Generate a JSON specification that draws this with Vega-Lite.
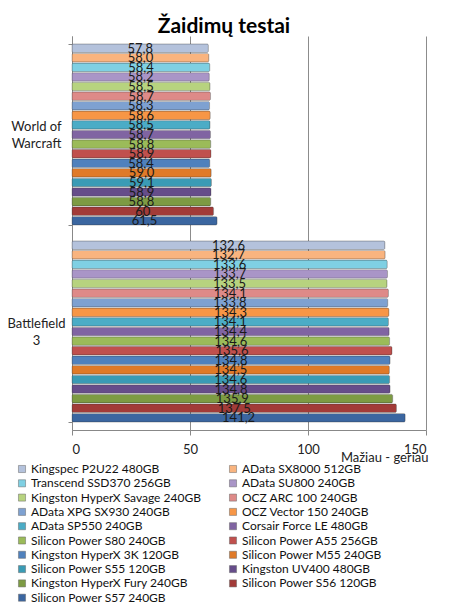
{
  "$schema": "https://vega.github.io/schema/vega-lite/v6.json",
  "autosize": {"type": "none"},
  "width": 354,
  "height": 394,
  "padding": {"left": 72, "top": 36, "right": 24, "bottom": 177},
  "background": "white",
  "config": {
    "font": "Lato",
    "view": {"stroke": null},
    "axis": {"labelFont": "Lato", "titleFont": "Lato"},
    "legend": {"labelFont": "Lato"}
  },
  "title": {
    "text": "Žaidimų testai",
    "fontSize": 21,
    "fontWeight": "bold",
    "font": "Lato",
    "color": "#000000",
    "anchor": "middle",
    "frame": "group",
    "dx": -25,
    "dy": 30,
    "baseline": "bottom",
    "offset": 2
  },
  "data": {
    "values": [
      {"game": "World of Warcraft", "series": "Kingspec P2U22 480GB", "value": 57.8, "label": "57,8"},
      {"game": "World of Warcraft", "series": "AData SX8000 512GB", "value": 58.0, "label": "58,0"},
      {"game": "World of Warcraft", "series": "Transcend SSD370 256GB", "value": 58.4, "label": "58,4"},
      {"game": "World of Warcraft", "series": "AData SU800 240GB", "value": 58.2, "label": "58,2"},
      {"game": "World of Warcraft", "series": "Kingston HyperX Savage 240GB", "value": 58.5, "label": "58,5"},
      {"game": "World of Warcraft", "series": "OCZ ARC 100 240GB", "value": 58.7, "label": "58,7"},
      {"game": "World of Warcraft", "series": "AData XPG SX930 240GB", "value": 58.3, "label": "58,3"},
      {"game": "World of Warcraft", "series": "OCZ Vector 150 240GB", "value": 58.6, "label": "58,6"},
      {"game": "World of Warcraft", "series": "AData SP550 240GB", "value": 58.5, "label": "58,5"},
      {"game": "World of Warcraft", "series": "Corsair Force LE 480GB", "value": 58.7, "label": "58,7"},
      {"game": "World of Warcraft", "series": "Silicon Power S80 240GB", "value": 58.8, "label": "58,8"},
      {"game": "World of Warcraft", "series": "Silicon Power A55 256GB", "value": 58.9, "label": "58,9"},
      {"game": "World of Warcraft", "series": "Kingston HyperX 3K 120GB", "value": 58.4, "label": "58,4"},
      {"game": "World of Warcraft", "series": "Silicon Power M55 240GB", "value": 59.0, "label": "59,0"},
      {"game": "World of Warcraft", "series": "Silicon Power S55 120GB", "value": 59.1, "label": "59,1"},
      {"game": "World of Warcraft", "series": "Kingston UV400 480GB", "value": 58.9, "label": "58,9"},
      {"game": "World of Warcraft", "series": "Kingston HyperX Fury 240GB", "value": 58.8, "label": "58,8"},
      {"game": "World of Warcraft", "series": "Silicon Power S56 120GB", "value": 60, "label": "60"},
      {"game": "World of Warcraft", "series": "Silicon Power S57 240GB", "value": 61.5, "label": "61,5"},
      {"game": "Battlefield 3", "series": "Kingspec P2U22 480GB", "value": 132.6, "label": "132,6"},
      {"game": "Battlefield 3", "series": "AData SX8000 512GB", "value": 132.7, "label": "132,7"},
      {"game": "Battlefield 3", "series": "Transcend SSD370 256GB", "value": 133.6, "label": "133,6"},
      {"game": "Battlefield 3", "series": "AData SU800 240GB", "value": 133.7, "label": "133,7"},
      {"game": "Battlefield 3", "series": "Kingston HyperX Savage 240GB", "value": 133.5, "label": "133,5"},
      {"game": "Battlefield 3", "series": "OCZ ARC 100 240GB", "value": 134.1, "label": "134,1"},
      {"game": "Battlefield 3", "series": "AData XPG SX930 240GB", "value": 133.8, "label": "133,8"},
      {"game": "Battlefield 3", "series": "OCZ Vector 150 240GB", "value": 134.3, "label": "134,3"},
      {"game": "Battlefield 3", "series": "AData SP550 240GB", "value": 134.1, "label": "134,1"},
      {"game": "Battlefield 3", "series": "Corsair Force LE 480GB", "value": 134.4, "label": "134,4"},
      {"game": "Battlefield 3", "series": "Silicon Power S80 240GB", "value": 134.6, "label": "134,6"},
      {"game": "Battlefield 3", "series": "Silicon Power A55 256GB", "value": 135.6, "label": "135,6"},
      {"game": "Battlefield 3", "series": "Kingston HyperX 3K 120GB", "value": 134.8, "label": "134,8"},
      {"game": "Battlefield 3", "series": "Silicon Power M55 240GB", "value": 134.5, "label": "134,5"},
      {"game": "Battlefield 3", "series": "Silicon Power S55 120GB", "value": 134.6, "label": "134,6"},
      {"game": "Battlefield 3", "series": "Kingston UV400 480GB", "value": 134.8, "label": "134,8"},
      {"game": "Battlefield 3", "series": "Kingston HyperX Fury 240GB", "value": 135.9, "label": "135,9"},
      {"game": "Battlefield 3", "series": "Silicon Power S56 120GB", "value": 137.5, "label": "137,5"},
      {"game": "Battlefield 3", "series": "Silicon Power S57 240GB", "value": 141.2, "label": "141,2"}
    ]
  },
  "encoding": {
    "y": {
      "field": "game",
      "type": "nominal",
      "sort": ["World of Warcraft", "Battlefield 3"],
      "scale": {"paddingInner": 0.08, "paddingOuter": 0.04},
      "axis": {
        "title": null,
        "tickBand": "extent",
        "tickSize": 4,
        "tickColor": "#888888",
        "domainColor": "#888888",
        "labelAlign": "center",
        "labelBaseline": "middle",
        "labelPadding": 32,
        "labelOffset": -8,
        "labelFontSize": 13,
        "labelColor": "#222222",
        "labelLineHeight": 17,
        "labelExpr": "datum.value == 'World of Warcraft' ? ['World of', 'Warcraft'] : (datum.value == 'Battlefield 3' ? ['Battlefield', '3'] : '')"
      }
    },
    "yOffset": {
      "field": "series",
      "type": "nominal",
      "sort": ["Kingspec P2U22 480GB", "AData SX8000 512GB", "Transcend SSD370 256GB", "AData SU800 240GB", "Kingston HyperX Savage 240GB", "OCZ ARC 100 240GB", "AData XPG SX930 240GB", "OCZ Vector 150 240GB", "AData SP550 240GB", "Corsair Force LE 480GB", "Silicon Power S80 240GB", "Silicon Power A55 256GB", "Kingston HyperX 3K 120GB", "Silicon Power M55 240GB", "Silicon Power S55 120GB", "Kingston UV400 480GB", "Kingston HyperX Fury 240GB", "Silicon Power S56 120GB", "Silicon Power S57 240GB"],
      "scale": {"paddingInner": 0.1, "paddingOuter": 0}
    }
  },
  "layer": [
    {
      "mark": {"type": "bar", "stroke": "#333333", "strokeOpacity": 0.45, "strokeWidth": 0.6, "cornerRadius": 1.5},
      "encoding": {
        "x": {
          "field": "value",
          "type": "quantitative",
          "scale": {"domain": [0, 150], "nice": false},
          "axis": {
            "values": [0, 50, 100, 150],
            "grid": true,
            "gridColor": "#8c8c8c",
            "gridWidth": 1,
            "domainColor": "#888888",
            "tickColor": "#888888",
            "tickSize": 5,
            "labelFontSize": 13,
            "labelColor": "#222222",
            "labelPadding": 8,
            "labelBaseline": "top",
            "title": "Mažiau - geriau",
            "titleFontSize": 13,
            "titleFontWeight": "normal",
            "titleColor": "#222222",
            "titleAnchor": "end",
            "titleAlign": "right",
            "titleBaseline": "alphabetic",
            "titleX": 356,
            "titleY": 31
          }
        },
        "color": {
          "field": "series",
          "type": "nominal",
          "scale": {
            "domain": ["Kingspec P2U22 480GB", "Transcend SSD370 256GB", "Kingston HyperX Savage 240GB", "AData XPG SX930 240GB", "AData SP550 240GB", "Silicon Power S80 240GB", "Kingston HyperX 3K 120GB", "Silicon Power S55 120GB", "Kingston HyperX Fury 240GB", "Silicon Power S57 240GB", "AData SX8000 512GB", "AData SU800 240GB", "OCZ ARC 100 240GB", "OCZ Vector 150 240GB", "Corsair Force LE 480GB", "Silicon Power A55 256GB", "Silicon Power M55 240GB", "Kingston UV400 480GB", "Silicon Power S56 120GB"],
            "range": ["#B4C2DC", "#7FD0E3", "#B7D37F", "#7EA1D1", "#4BACC6", "#9BBB59", "#4F81BD", "#3A9BB5", "#7D9B43", "#3B66A0", "#F9B47F", "#A995C7", "#DE8A88", "#F79646", "#8064A2", "#C0504D", "#E07A28", "#664D8A", "#A23B38"]
          },
          "legend": {
            "title": null,
            "orient": "none",
            "legendX": -56,
            "legendY": 427,
            "columns": 2,
            "columnPadding": 26,
            "rowPadding": 2.3,
            "symbolType": "square",
            "symbolSize": 50,
            "symbolStrokeWidth": 0.5,
            "symbolStrokeColor": "#666666",
            "labelFontSize": 12,
            "labelColor": "#111111",
            "labelOffset": 3,
            "labelLimit": 250
          }
        }
      }
    },
    {
      "mark": {"type": "text", "fontSize": 13, "color": "#1a1a1a", "baseline": "middle", "align": "center", "dy": 0.5},
      "encoding": {
        "x": {
          "field": "value",
          "type": "quantitative",
          "scale": {"domain": [0, 300], "nice": false},
          "axis": null
        },
        "text": {"field": "label", "type": "nominal"}
      }
    }
  ],
  "resolve": {"scale": {"x": "independent"}}
}
